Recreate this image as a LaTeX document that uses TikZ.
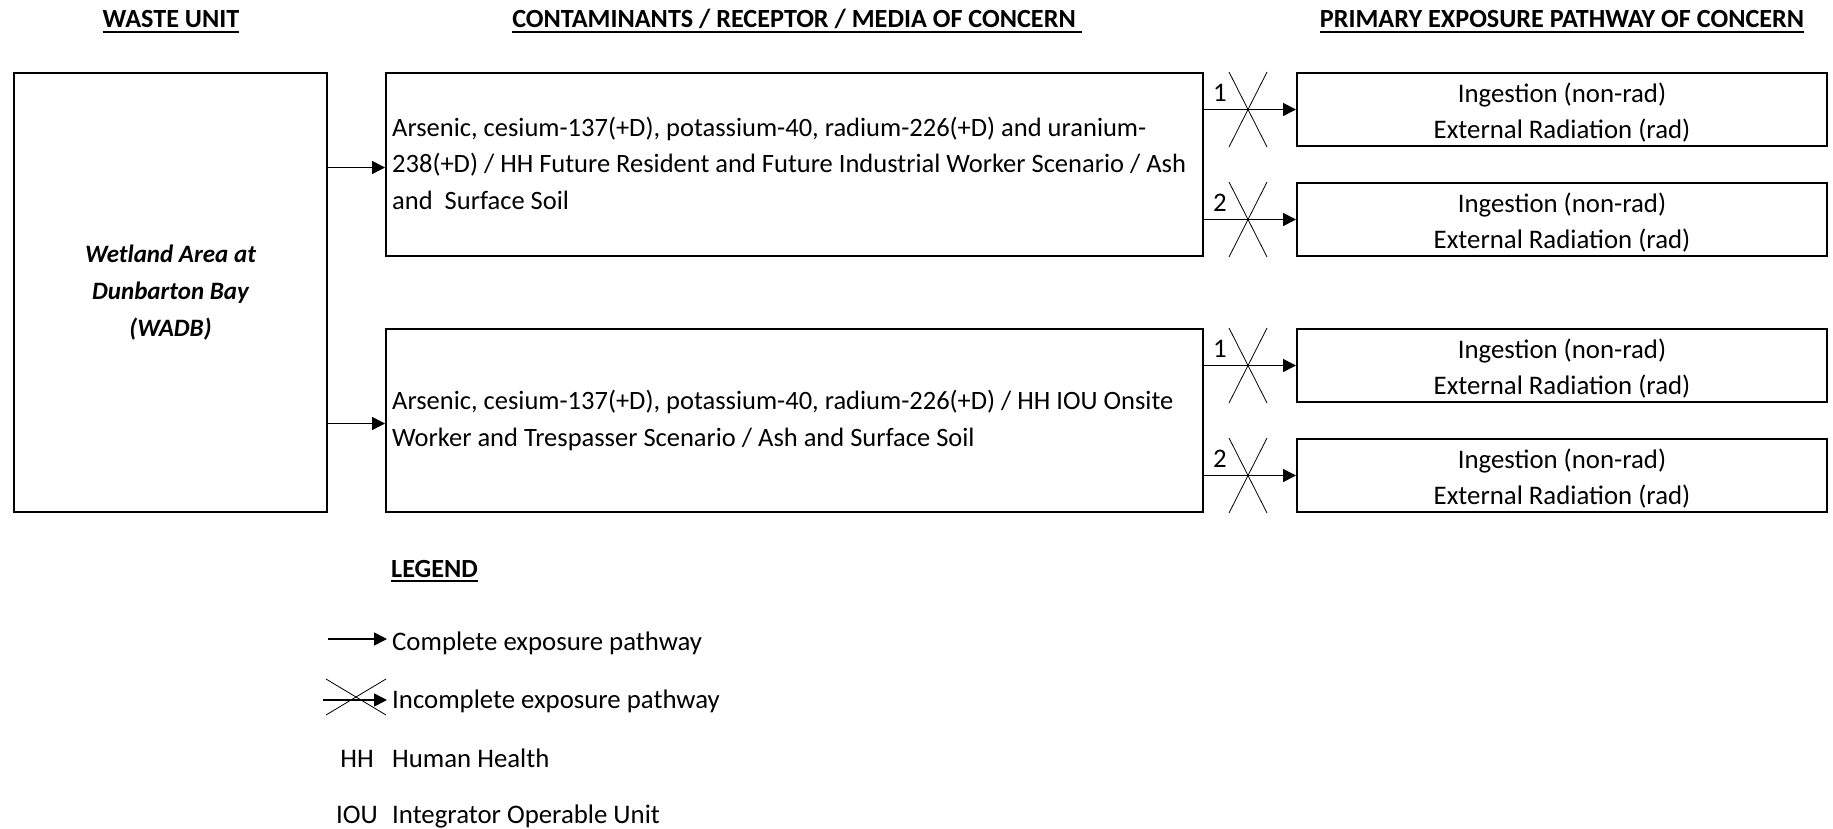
\documentclass[tikz,border=0pt]{standalone}
\usepackage{fontspec}
\setmainfont{Carlito}
\usetikzlibrary{arrows.meta,calc}
\begin{document}
\begin{tikzpicture}[x=1pt,y=-1pt,
  box/.style={draw,line width=2pt,inner sep=0pt},
  txt/.style={font=\fontsize{26.8}{36.5}\selectfont,inner sep=0pt},
  ctxt/.style={font=\fontsize{26.5}{36.5}\selectfont,inner sep=0pt},
  hdr/.style={font=\fontsize{26.2}{30}\selectfont\bfseries,inner sep=0pt},
  arr/.style={line width=1.6pt,-{Triangle[length=13pt,width=13pt]}},
  crossln/.style={line width=0.8pt},
  uline/.style={line width=2pt}]
\useasboundingbox (0,0) rectangle (1833,829);
% headers
\node[hdr,anchor=base] (h1) at (171,28) {WASTE UNIT};
\node[hdr,anchor=base] (h2) at (794,28) {CONTAMINANTS / RECEPTOR / MEDIA OF CONCERN};
\node[hdr,anchor=base] (h3) at (1562,28) {PRIMARY EXPOSURE PATHWAY OF CONCERN};
\draw[uline] ([yshift=-4pt]h1.base west) -- ([yshift=-4pt]h1.base east);
\draw[uline] ([yshift=-4pt]h2.base west) -- ([yshift=-4pt,xshift=6pt]h2.base east);
\draw[uline] ([yshift=-4pt]h3.base west) -- ([yshift=-4pt]h3.base east);
% waste unit box
\node[box,minimum width=313pt,minimum height=439pt,align=center,
      font=\fontsize{25}{37}\selectfont\bfseries\itshape] (w) at (170.5,292.5)
  {Wetland Area at\\Dunbarton Bay\\(WADB)};
% contaminant boxes
\node[box,minimum width=817pt,minimum height=183pt] (c1) at (794.5,164.5) {};
\node[box,minimum width=817pt,minimum height=183pt] (c2) at (794.5,420.5) {};
\node[ctxt,align=left,anchor=west] (c1t) at ([yshift=1.5pt]c1.west -| 392,0)
  {Arsenic, cesium-137(+D), potassium-40, radium-226(+D) and uranium-\\238(+D) / HH Future Resident and Future Industrial Worker Scenario / Ash\\and\ \ Surface Soil};
\node[ctxt,align=left,anchor=west] (c2t) at (c2.west -| 392,0)
  {Arsenic, cesium-137(+D), potassium-40, radium-226(+D) / HH IOU Onsite\\Worker and Trespasser Scenario / Ash and Surface Soil};
% pathway boxes
\foreach \n/\yy in {p1/109.5,p2/219.5,p3/365.5,p4/475.5}{
  \node[box,minimum width=530pt,minimum height=73pt] (\n) at (1562,\yy) {};
  \node[txt,align=center] (\n t) at ([yshift=-3pt]\n.center)
    {Ingestion (non-rad)\\External Radiation (rad)};
}
% arrows waste -> contaminants
\draw[arr] ([yshift=-3pt]c1.west -| w.east) -- ([yshift=-3pt]c1.west);
\draw[arr] ([yshift=-3pt]c2.west -| w.east) -- ([yshift=-3pt]c2.west);
% pathway arrows with crosses
\foreach \c/\p/\l in {c1/p1/1,c1/p2/2,c2/p3/1,c2/p4/2}{
  \draw[arr] (\c.east |- \p.west) -- (\p.west);
  \draw[crossln] ($(\p.north west)+(-67,0)$) -- ($(\p.south west)+(-29,0)$);
  \draw[crossln] ($(\p.north west)+(-29,0)$) -- ($(\p.south west)+(-67,0)$);
  \node[txt,anchor=base] (lab\p) at ($(\p.west)+(-76,-8)$) {\l};
}
% legend
\node[hdr,anchor=base west] (lg) at (391,577) {LEGEND};
\draw[uline] ([yshift=-4pt]lg.base west) -- ([yshift=-4pt]lg.base east);
\coordinate (a1s) at (328,639);
\coordinate (a1e) at (387,639);
\draw[arr] (a1s) -- (a1e);
\node[txt,anchor=base west] (l1) at (392,650) {Complete exposure pathway};
\coordinate (a2s) at (323,700);
\coordinate (a2e) at (387,700);
\draw[arr] (a2s) -- (a2e);
\draw[crossln] (326,679) -- (386,715);
\draw[crossln] (326,715) -- (386,679);
\node[txt,anchor=base west] (l2) at (392,708) {Incomplete exposure pathway};
\node[txt,anchor=base] (hh) at (357,767) {HH};
\node[txt,anchor=base west] (l3) at (392,767) {Human Health};
\node[txt,anchor=base] (iou) at (357,823) {IOU};
\node[txt,anchor=base west] (l4) at (392,823) {Integrator Operable Unit};
\end{tikzpicture}
\end{document}
